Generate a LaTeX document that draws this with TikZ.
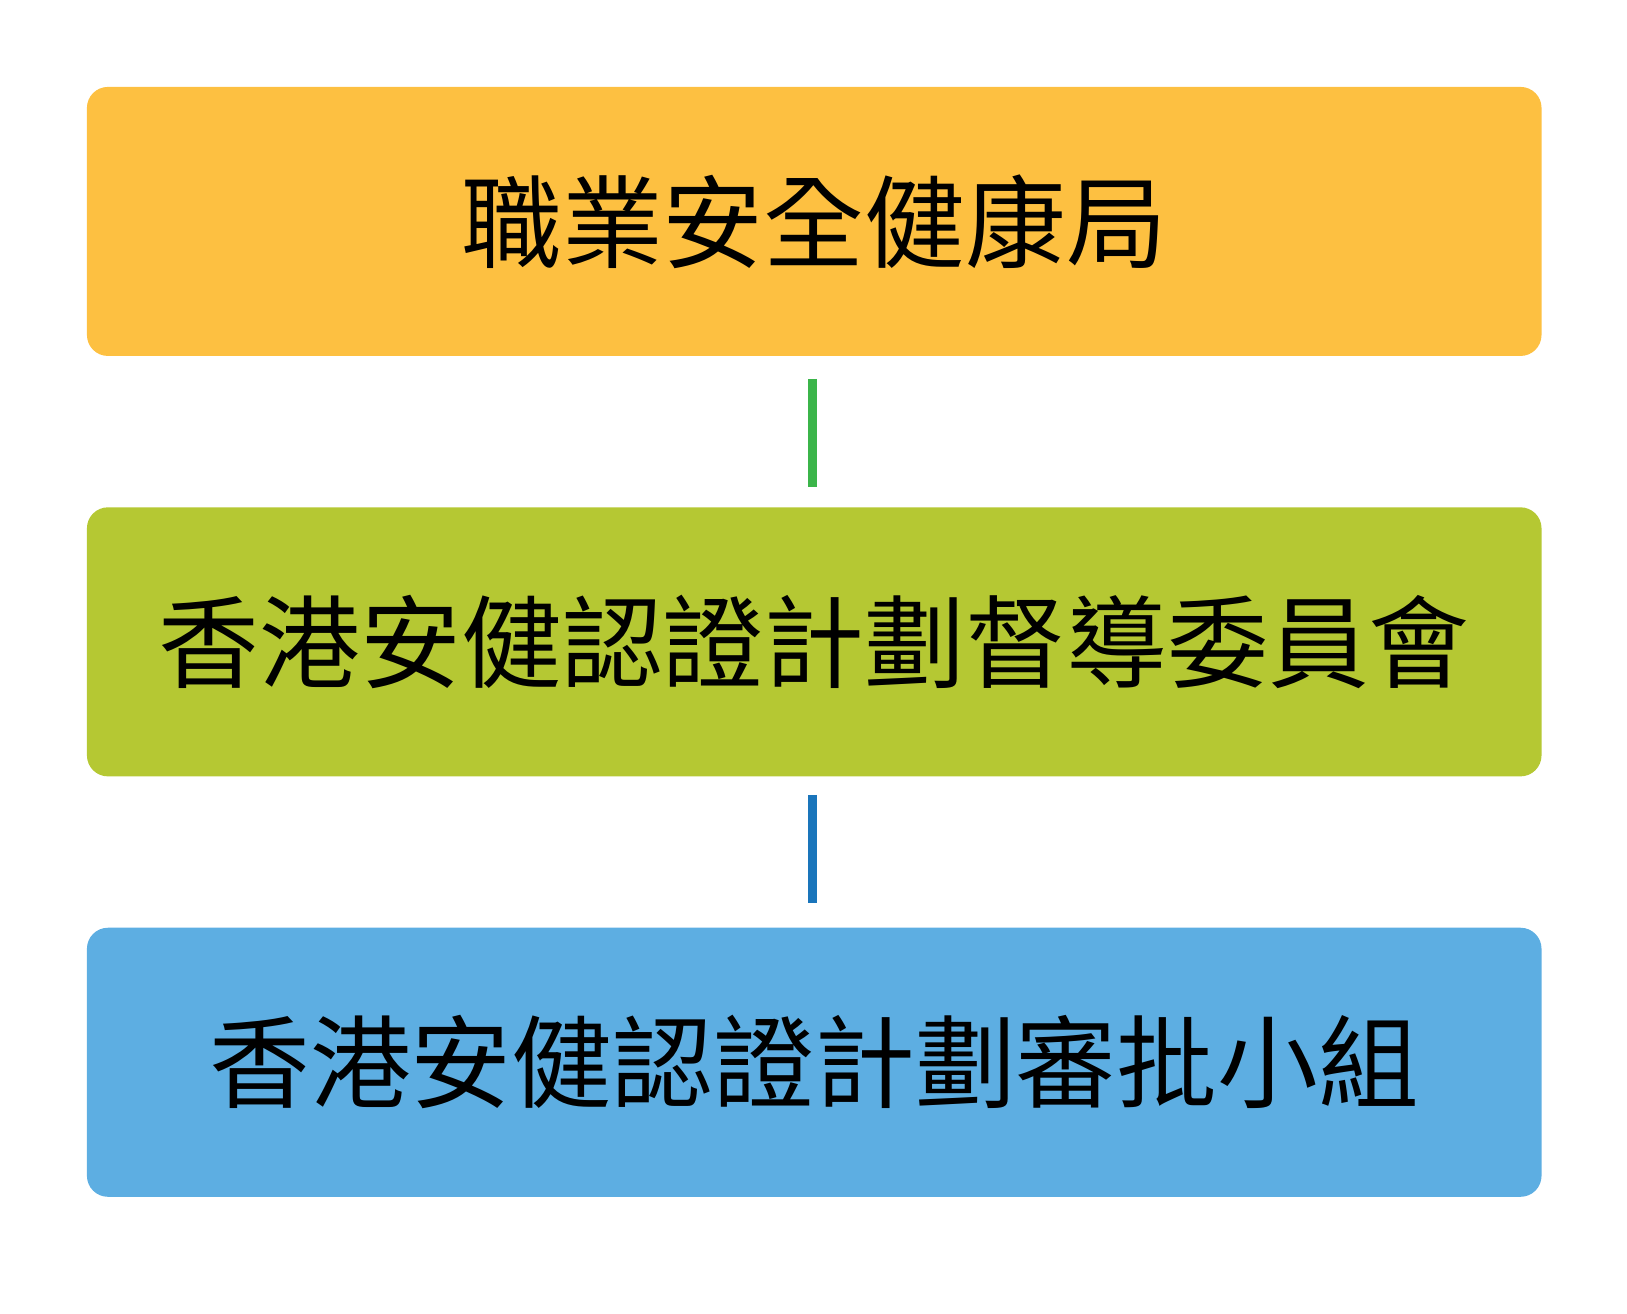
\documentclass[tikz,border=0pt]{standalone}
\usepackage{fontspec}
\newfontfamily\cjk{Noto Sans CJK TC}
\definecolor{cA}{HTML}{FDC041}
\definecolor{cB}{HTML}{B5C833}
\definecolor{cC}{HTML}{5DAEE2}
\definecolor{lA}{HTML}{3BB54A}
\definecolor{lB}{HTML}{1A75BB}
\begin{document}
\begin{tikzpicture}[x=0.1mm,y=-0.1mm,
  box/.style={rounded corners=2mm,minimum width=138.4mm,minimum height=25.6mm,inner sep=0pt,font=\cjk\fontsize{27.3pt}{30pt}\selectfont,anchor=north west},
  conn/.style={line width=0.9mm}]
\useasboundingbox (0,0) rectangle (1548,1250);
\node[box,fill=cA] (a) at (82,82) {職業安全健康局};
\node[box,fill=cB] (b) at (82,482) {香港安健認證計劃督導委員會};
\node[box,fill=cC] (c) at (82,882) {香港安健認證計劃審批小組};
\draw[conn,lA] ([yshift=-2.1mm]a.south -| 773,0) -- ([yshift=1.9mm]b.north -| 773,0);
\draw[conn,lB] ([yshift=-1.7mm]b.south -| 773,0) -- ([yshift=2.3mm]c.north -| 773,0);
\end{tikzpicture}
\end{document}
